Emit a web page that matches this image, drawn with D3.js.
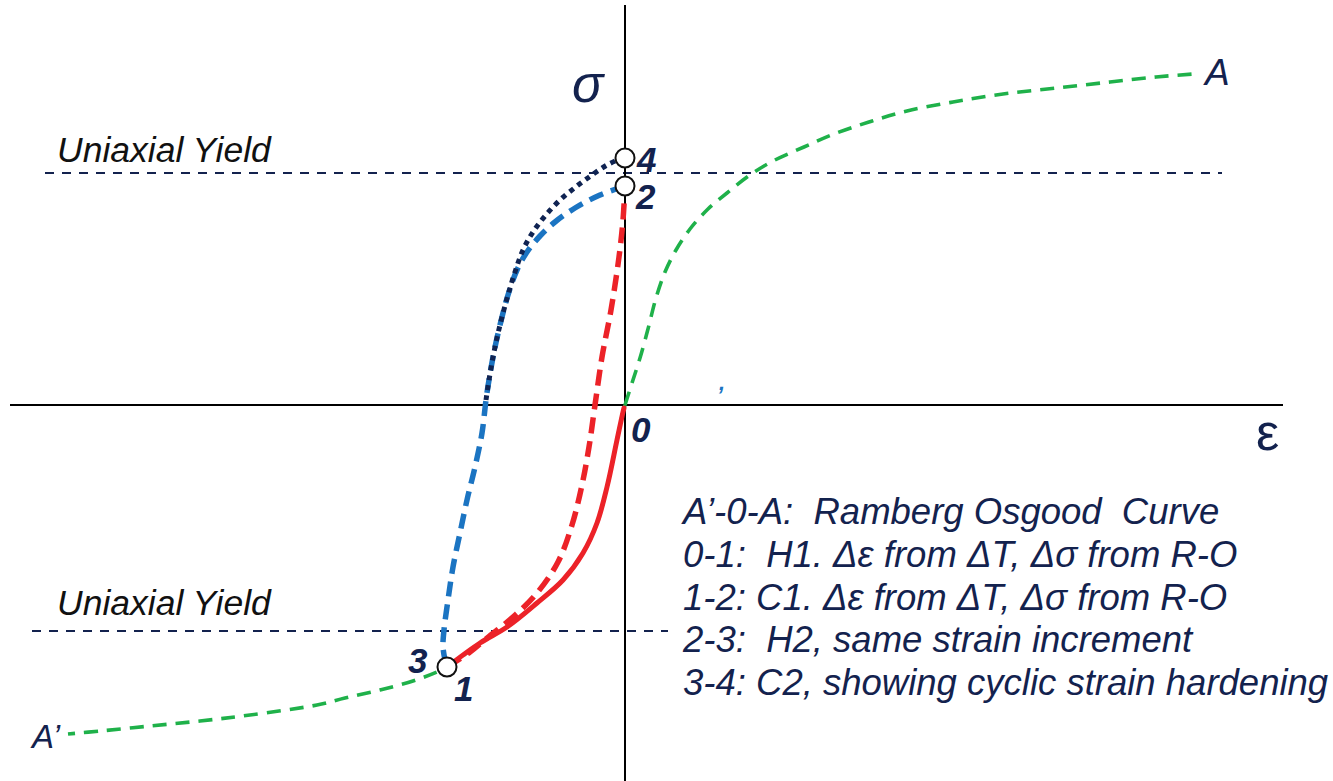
<!DOCTYPE html>
<html>
<head>
<meta charset="utf-8">
<script src="https://cdn.jsdelivr.net/npm/d3@7/dist/d3.min.js"></script>
<style>
  html, body { margin: 0; padding: 0; background: #fff; }
  svg { display: block; }
  text { font-family: "Liberation Sans", Arial, sans-serif; white-space: pre; }
</style>
</head>
<body>
<svg id="chart" width="1333" height="781"></svg>
<script>
// Strain (eps) and stress (sig) in normalised units.

// Ramberg-Osgood curve, tension branch 0 -> A
const roTension = [
  [0, 0], [0.07, 0.22], [0.15, 0.47], [0.23, 0.76], [0.31, 1.07], [0.40, 1.33],
  [0.51, 1.55], [0.65, 1.76], [0.83, 1.96], [1.02, 2.12], [1.25, 2.30], [1.48, 2.44],
  [1.79, 2.58], [2.09, 2.71], [2.44, 2.83], [2.82, 2.94], [3.28, 3.03], [3.78, 3.11],
  [4.32, 3.17], [4.85, 3.23], [5.31, 3.28], [5.68, 3.31]
];
// Ramberg-Osgood curve, compression branch 0 -> A'
const roCompression = [
  [0, 0], [-0.02, -0.07], [-0.08, -0.35], [-0.18, -0.82], [-0.28, -1.18], [-0.42, -1.48],
  [-0.62, -1.75], [-0.88, -1.98], [-1.18, -2.22], [-1.45, -2.38], [-1.78, -2.62],
  [-2.09, -2.75], [-2.45, -2.85], [-2.80, -2.93], [-3.08, -3.00], [-3.75, -3.10],
  [-4.25, -3.16], [-4.75, -3.21], [-5.25, -3.26], [-5.57, -3.29]
];
// 0-1: first heating
const path01 = [
  [-0.01, -0.03], [-0.02, -0.07], [-0.08, -0.35], [-0.18, -0.82], [-0.28, -1.18], [-0.42, -1.48],
  [-0.62, -1.75], [-0.88, -1.98], [-1.18, -2.22], [-1.45, -2.38], [-1.78, -2.62]
];
// 1-2: first cooling
const path12 = [
  [-1.78, -2.62], [-1.55, -2.47], [-1.38, -2.33], [-1.12, -2.12], [-0.88, -1.88],
  [-0.67, -1.57], [-0.53, -1.20], [-0.43, -0.80], [-0.36, -0.42], [-0.30, 0],
  [-0.23, 0.48], [-0.14, 0.95], [-0.06, 1.48], [-0.02, 1.85], [0, 2.19]
];
// 2-3: second heating
const path23 = [
  [0, 2.19], [-0.25, 2.10], [-0.50, 1.97], [-0.70, 1.83], [-0.85, 1.69], [-0.98, 1.53],
  [-1.08, 1.35], [-1.17, 1.10], [-1.25, 0.80], [-1.31, 0.53], [-1.36, 0.25], [-1.39, 0.05],
  [-1.43, -0.28], [-1.50, -0.62], [-1.58, -0.95], [-1.65, -1.28], [-1.72, -1.62],
  [-1.77, -1.95], [-1.81, -2.25], [-1.82, -2.42], [-1.80, -2.55]
];
// 3-4: second cooling (cyclic strain hardening)
const path34 = [
  [-1.39, 0.05], [-1.36, 0.25], [-1.31, 0.53], [-1.25, 0.80], [-1.17, 1.10], [-1.10, 1.33],
  [-1.02, 1.55], [-0.92, 1.73], [-0.80, 1.89], [-0.65, 2.05], [-0.48, 2.19], [-0.33, 2.30],
  [-0.18, 2.40], [-0.03, 2.47]
];
// Uniaxial yield levels and their extents [sig, epsFrom, epsTo]
const yieldLines = [[2.32, -5.80, 5.97], [-2.26, -5.93, 0.43]];
// State points
const statePoints = [
  { eps: -1.78, sig: -2.62 },
  { eps: 0, sig: 2.19 },
  { eps: 0, sig: 2.47 }
];
const legendLines = [
  "A\u2019-0-A:  Ramberg Osgood  Curve",
  "0-1:  H1. \u0394\u03b5 from \u0394T, \u0394\u03c3 from R-O",
  "1-2: C1. \u0394\u03b5 from \u0394T, \u0394\u03c3 from R-O",
  "2-3:  H2, same strain increment",
  "3-4: C2, showing cyclic strain hardening"
];

const W = 1333, H = 781;
const svg = d3.select("#chart");
svg.append("rect").attr("width", W).attr("height", H).attr("fill", "#fff");

const x = d3.scaleLinear().domain([-6.25, 7.08]).range([0, W]);
const y = d3.scaleLinear().domain([-3.76, 4.05]).range([H, 0]);

const line = d3.line().x(d => x(d[0])).y(d => y(d[1])).curve(d3.curveCatmullRom.alpha(0.5));

const navy = "#13224e";

// yield levels
svg.selectAll("line.yield").data(yieldLines).join("line")
  .attr("class", "yield")
  .attr("x1", d => x(d[1])).attr("x2", d => x(d[2]))
  .attr("y1", d => y(d[0])).attr("y2", d => y(d[0]))
  .attr("stroke", navy).attr("stroke-width", 2).attr("stroke-dasharray", "9,8");

// axes
svg.append("line").attr("x1", x(-6.15)).attr("x2", x(6.58)).attr("y1", y(0)).attr("y2", y(0))
  .attr("stroke", "#000").attr("stroke-width", 2);
svg.append("line").attr("x1", x(0)).attr("x2", x(0)).attr("y1", y(4.0)).attr("y2", y(-3.76))
  .attr("stroke", "#000").attr("stroke-width", 2);

// Ramberg-Osgood curve
[roTension, roCompression].forEach(arr => {
  svg.append("path").attr("d", line(arr)).attr("fill", "none")
    .attr("stroke", "#1fb14a").attr("stroke-width", 3.6).attr("stroke-dasharray", "14,9");
});

// cycle paths
svg.append("path").attr("d", line(path12)).attr("fill", "none")
  .attr("stroke", "#ec2228").attr("stroke-width", 5.5).attr("stroke-dasharray", "16,8");
svg.append("path").attr("d", line(path01)).attr("fill", "none")
  .attr("stroke", "#ec2228").attr("stroke-width", 5).attr("stroke-linecap", "round");
svg.append("path").attr("d", line(path23)).attr("fill", "none")
  .attr("stroke", "#1b74c2").attr("stroke-width", 5.5).attr("stroke-dasharray", "15,8");
svg.append("path").attr("d", line(path34)).attr("fill", "none")
  .attr("stroke", "#0f2352").attr("stroke-width", 5).attr("stroke-dasharray", "5,5");

// state point markers
svg.selectAll("circle.pt").data(statePoints).join("circle")
  .attr("class", "pt")
  .attr("cx", d => x(d.eps)).attr("cy", d => y(d.sig)).attr("r", 9.5)
  .attr("fill", "#fff").attr("stroke", "#111").attr("stroke-width", 2);

// point numbers
const nums = [
  { t: "0", eps: 0, sig: 0, dx: 6, dy: 37 },
  { t: "1", eps: -1.78, sig: -2.62, dx: 7, dy: 34 },
  { t: "2", eps: 0, sig: 2.19, dx: 11, dy: 23 },
  { t: "3", eps: -1.78, sig: -2.62, dx: -39, dy: 6 },
  { t: "4", eps: 0, sig: 2.47, dx: 12, dy: 14 }
];
svg.selectAll("text.num").data(nums).join("text")
  .attr("class", "num")
  .attr("x", d => x(d.eps) + d.dx).attr("y", d => y(d.sig) + d.dy)
  .attr("font-size", 35).attr("font-weight", "bold").attr("font-style", "italic")
  .attr("fill", navy).text(d => d.t);

// axis symbols
svg.append("text").attr("x", 572).attr("y", 102).attr("font-size", 52)
  .attr("font-style", "italic").attr("fill", navy).text("\u03c3");
svg.append("text").attr("x", 1256).attr("y", 450).attr("font-size", 52)
  .attr("fill", navy).text("\u03b5");

// curve end labels
svg.append("text").attr("x", x(5.68) + 12).attr("y", 85).attr("font-size", 37)
  .attr("font-style", "italic").attr("fill", navy).text("A");
svg.append("text").attr("x", 32).attr("y", 748).attr("font-size", 33)
  .attr("font-style", "italic").attr("fill", navy).text("A\u2019");

// yield labels
svg.selectAll("text.ylab").data(yieldLines).join("text")
  .attr("class", "ylab")
  .attr("x", 57).attr("y", (d, i) => y(d[0]) - (i === 0 ? 11 : 16))
  .attr("font-size", 35.5).attr("font-style", "italic").attr("fill", "#111")
  .text("Uniaxial Yield");

// stray mark
svg.append("text").attr("x", 719).attr("y", 390).attr("font-size", 22)
  .attr("font-style", "italic").attr("font-weight", "bold").attr("fill", "#1b74c2").text(",");

// legend
svg.selectAll("text.leg").data(legendLines).join("text")
  .attr("class", "leg")
  .attr("x", 683).attr("y", (d, i) => 524 + i * 42.8)
  .attr("font-size", 36.5).attr("font-style", "italic").attr("fill", navy)
  .text(d => d);
</script>
</body>
</html>
